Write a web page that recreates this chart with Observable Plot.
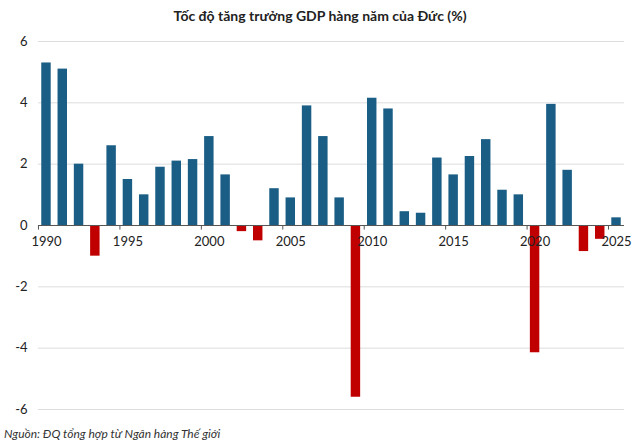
<!DOCTYPE html>
<html><head><meta charset="utf-8">
<script src="https://cdn.jsdelivr.net/npm/d3@7"></script>
<script src="https://cdn.jsdelivr.net/npm/@observablehq/plot@0.6"></script>
<style>
body{margin:0;background:#fff;font-family:Lato,sans-serif;}
#t{height:28px;line-height:32px;text-align:center;font-weight:bold;font-size:14px;color:#222;}
#c{font-style:italic;font-size:12px;color:#333;padding-left:4px;margin-top:-2px}
</style></head><body>
<div id="t">Tốc độ tăng trưởng GDP hàng năm của Đức (%)</div>
<div id="chart"></div>
<div id="c">Nguồn: ĐQ tổng hợp từ Ngân hàng Thế giới</div>
<script>
const years = d3.range(1990, 2026);
const growth = [5.3,5.1,2.0,-1.0,2.6,1.5,1.0,1.9,2.1,2.15,2.9,1.65,-0.2,-0.5,1.2,0.9,3.9,2.9,0.9,-5.6,4.15,3.8,0.45,0.4,2.2,1.65,2.25,2.8,1.15,1.0,-4.15,3.95,1.8,-0.85,-0.45,0.25];
const yTicks = [-6,-4,-2,0,2,4,6];
const data = years.map((y,i)=>({year:y, v:growth[i]}));
const labelYears = years.filter(y=>y%5===0);
const chart = Plot.plot({
  width:640, height:400, marginTop:13, marginBottom:19, marginLeft:38, marginRight:16,
  style:{fontFamily:"Lato, sans-serif", fontSize:"13px", color:"#222"},
  x:{type:"band", domain:years, paddingInner:0.42, paddingOuter:0.2, round:false, axis:null},
  y:{domain:[-6,6], ticks:yTicks, tickSize:0, tickPadding:11, label:null, tickFormat:d=>String(d)},
  marks:[
    Plot.ruleY(yTicks.filter(d=>d!==0), {stroke:"#ddd"}),
    Plot.barY(data, {x:"year", y:"v", fill:d=>d.v<0?"#c00000":"#1a5e86"}),
    Plot.ruleY([0], {stroke:"#555"}),
    Plot.ruleX(labelYears, {x:d=>d, y1:0, y2:-0.15, dx:-8, stroke:"#555"}),
    Plot.text(labelYears, {x:d=>d, y:0, dy:16, text:d=>String(d), fontSize:13, fill:"#222"})
  ]
});
document.getElementById("chart").append(chart);
</script></body></html>
